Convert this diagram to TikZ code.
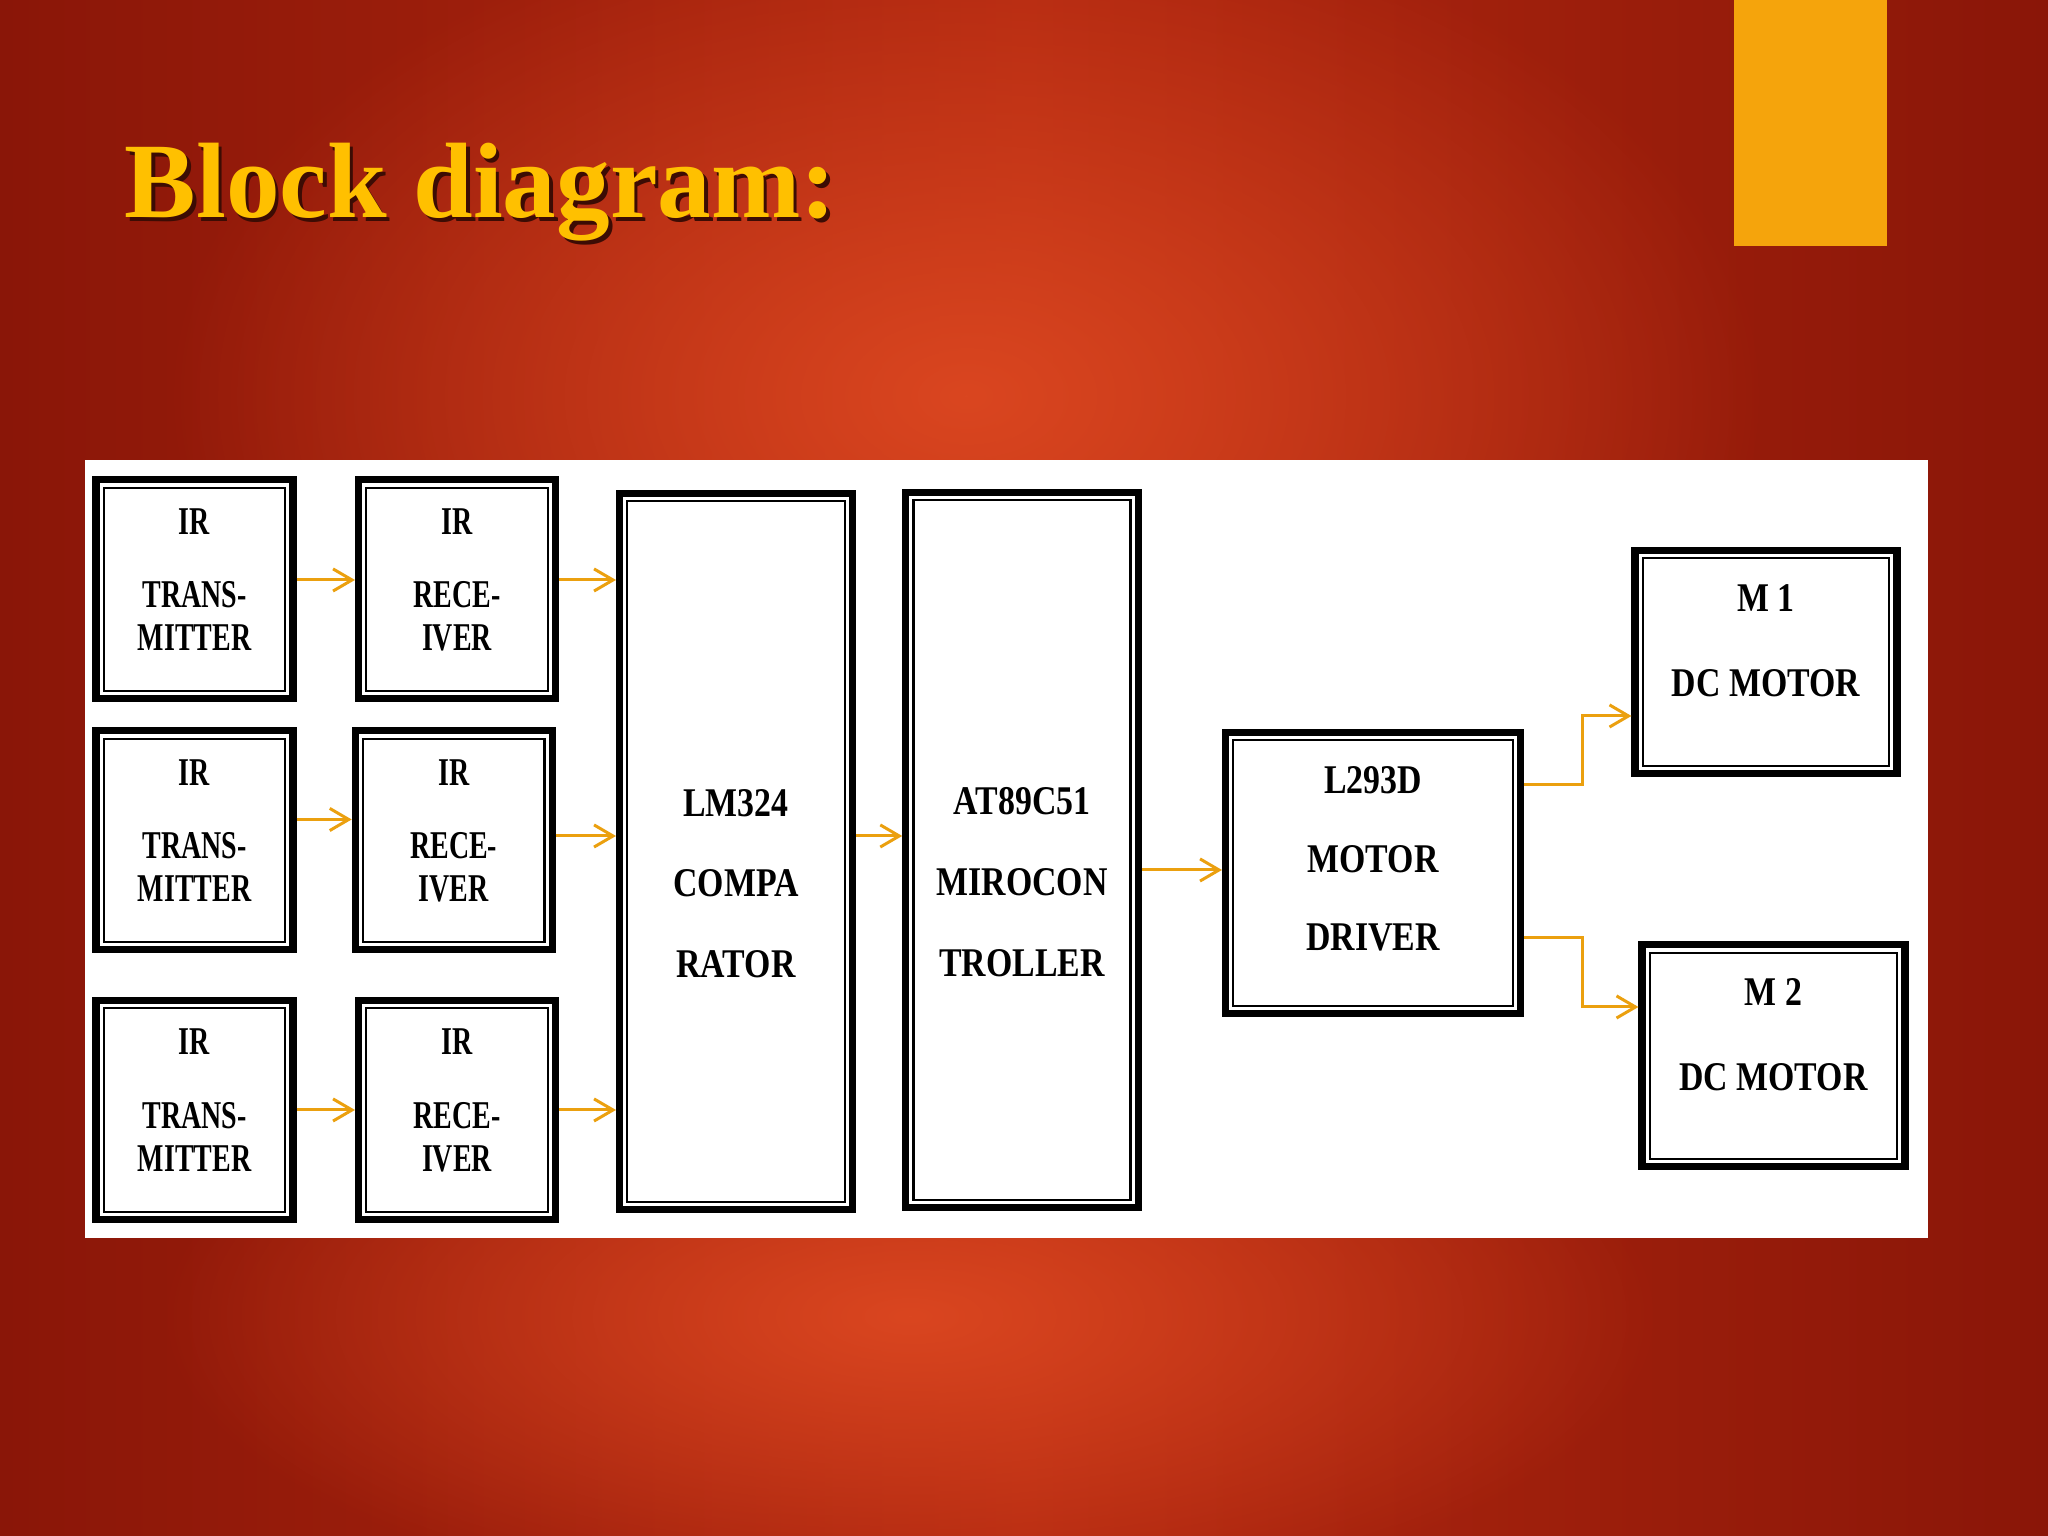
\documentclass[tikz,border=0pt]{standalone}
\usepackage{fontspec}
\setmainfont{Liberation Serif}
\newfontfamily\smallfont{Liberation Serif}[FakeStretch=0.71]
\newfontfamily\largefont{Liberation Serif}[FakeStretch=0.83]
\usetikzlibrary{arrows.meta, fadings}
\definecolor{bgdark}{RGB}{138,22,8}
\definecolor{bgmid}{RGB}{178,40,16}
\definecolor{bglight}{RGB}{218,70,32}
\definecolor{gold}{RGB}{255,192,0}
\definecolor{barorange}{RGB}{245,164,12}
\definecolor{wire}{RGB}{235,160,15}
\definecolor{titleshade}{RGB}{60,12,4}
\tikzfading[name=glowfade, inner color=transparent!0, outer color=transparent!100]

\begin{document}
\begin{tikzpicture}[
    blk/.style={draw, line width=2pt, fill=white, inner sep=0pt,
      path picture={\draw[line width=0.6pt] ([shift={(2.2pt,-2.2pt)}]path picture bounding box.north west) rectangle ([shift={(-2.2pt,2.2pt)}]path picture bounding box.south east);}},
    small/.style={blk, minimum width=1.97cm, minimum height=2.19cm, align=center, font=\smallfont\bfseries\fontsize{11.2}{12.2}\selectfont},
    large/.style={blk, align=center, font=\largefont\bfseries\fontsize{11.6}{23}\selectfont},
    arr/.style={-{Straight Barb[length=5.4pt,width=6.3pt]}, draw=wire, line width=0.85pt}]
    %slide background
    \useasboundingbox (0,0) rectangle (20.48,15.36);
    \shade[left color=bgdark, right color=bgdark, middle color=bgmid] (0,0) rectangle (20.48,15.36);
    \fill[bglight, path fading=glowfade] (9.66,11.4) ellipse (8 and 5);
    \fill[bglight, path fading=glowfade] (9.1,2.2) ellipse (7.5 and 3);
    \fill[barorange] (17.34,12.90) rectangle (18.87,15.36);
    \node[anchor=base west, inner sep=0pt, text=titleshade, font=\bfseries\fontsize{30.5}{36}\selectfont] at (1.275,13.145) (titleshadow){ Block diagram: };
    \node[anchor=base west, inner sep=0pt, text=gold, font=\bfseries\fontsize{30.5}{36}\selectfont] at (1.24,13.18) (title){ Block diagram: };
    \fill[white] (0.85,2.98) rectangle (19.28,10.76);
    %sensors
    \node[small] at (1.945,9.465) (tx1){ IR\\[8.8pt]TRANS-\\MITTER\rule[-5.7pt]{0pt}{0pt} };
    \node[small] at (4.57,9.465) (rx1){ IR\\[8.8pt]RECE-\\IVER\rule[-5.7pt]{0pt}{0pt} };
    \node[small] at (1.945,6.955) (tx2){ IR\\[8.8pt]TRANS-\\MITTER\rule[-5.7pt]{0pt}{0pt} };
    \node[small] at (4.537,6.955) (rx2){ IR\\[8.8pt]RECE-\\IVER\rule[-5.7pt]{0pt}{0pt} };
    \node[small] at (1.945,4.26) (tx3){ IR\\[8.8pt]TRANS-\\MITTER\rule[-5.7pt]{0pt}{0pt} };
    \node[small] at (4.57,4.26) (rx3){ IR\\[8.8pt]RECE-\\IVER\rule[-5.7pt]{0pt}{0pt} };
    %processing and motors
    \node[large, minimum width=2.33cm, minimum height=7.16cm] at (7.36,6.845) (lm){ \rule{0pt}{26pt}LM324\\COMPA\\RATOR };
    \node[large, minimum width=2.325cm, minimum height=7.155cm] at (10.22,6.86) (mcu){ \rule{0pt}{26pt}AT89C51\\MIROCON\\TROLLER };
    \node[large, minimum width=2.95cm, minimum height=2.81cm] at (13.73,6.63) (drv){ L293D\\[-0.7pt]MOTOR\\[-0.7pt]DRIVER\rule[-8.2pt]{0pt}{0pt} };
    \node[large, minimum width=2.62cm, minimum height=2.23cm] at (17.66,8.74) (m1){ M 1\\[1.2pt]DC MOTOR\rule[-12pt]{0pt}{0pt} };
    \node[large, minimum width=2.63cm, minimum height=2.22cm] at (17.735,4.80) (m2){ M 2\\[1.2pt]DC MOTOR\rule[-12pt]{0pt}{0pt} };
    %signal flow
    \draw[arr] ([yshift=0.095cm]tx1.east) -- ([yshift=0.095cm]rx1.west);
    \draw[arr] ([yshift=0.21cm]tx2.east) -- ([yshift=0.21cm]rx2.west);
    \draw[arr] (tx3.east) -- (rx3.west);
    \draw[arr] ([yshift=0.095cm]rx1.east) -- ([yshift=0.095cm]rx1.east -| lm.west);
    \draw[arr] ([yshift=0.045cm]rx2.east) -- ([yshift=0.045cm]rx2.east -| lm.west);
    \draw[arr] (rx3.east) -- (rx3.east -| lm.west);
    \draw[arr] ([yshift=0.155cm]lm.east) -- ([yshift=0.155cm]lm.east -| mcu.west);
    \draw[arr] ([yshift=-0.2cm]mcu.east) -- ([yshift=-0.2cm]mcu.east -| drv.west);
    \draw[arr] ([yshift=0.88cm]drv.east) -- ++(0.58,0) |- ([yshift=-0.54cm]m1.west);
    \draw[arr] ([yshift=-0.65cm]drv.east) -- ++(0.58,0) |- ([yshift=0.49cm]m2.west);
  \end{tikzpicture}
\end{document}
